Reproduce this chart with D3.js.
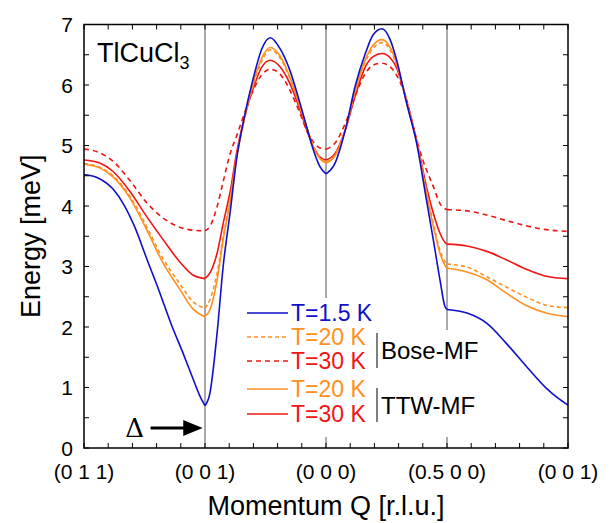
<!DOCTYPE html>
<html>
<head>
<meta charset="utf-8">
<script src="https://cdn.jsdelivr.net/npm/d3@7"></script>
<style>
  html, body { margin: 0; padding: 0; background: #fff; }
  svg { display: block; font-family: "Liberation Sans", Arial, Helvetica, sans-serif; }
</style>
</head>
<body>
<div id="chart"></div>
<script>
// momentum path: 0 = (0 1 1), 1 = (0 0 1), 2 = (0 0 0), 3 = (0.5 0 0), 4 = (0 0 1)
const qLabels = ['(0 1 1)', '(0 0 1)', '(0 0 0)', '(0.5 0 0)', '(0 0 1)'];
const energyTicks = [0, 1, 2, 3, 4, 5, 6, 7];

// [q position, energy meV]
const blue15K = [
  [0, 4.52], [0.12, 4.46], [0.24, 4.28], [0.33, 4.02], [0.42, 3.65], [0.52, 3.12],
  [0.62, 2.6], [0.72, 2.05], [0.82, 1.56], [0.9, 1.15], [0.96, 0.85], [1, 0.70],
  [1.04, 0.90], [1.1, 1.9], [1.15, 3.0], [1.21, 3.93], [1.26, 4.76], [1.32, 5.42],
  [1.4, 6.12], [1.47, 6.6], [1.54, 6.78], [1.62, 6.6], [1.70, 6.25], [1.785, 5.70],
  [1.84, 5.31], [1.895, 4.93], [1.95, 4.65], [2, 4.53],
  [2.075, 4.71], [2.16, 5.26], [2.24, 5.97], [2.325, 6.52], [2.39, 6.83], [2.463, 6.93],
  [2.53, 6.75], [2.584, 6.41], [2.666, 5.70], [2.749, 5.04], [2.83, 4.10], [2.887, 3.44],
  [2.942, 2.78], [2.983, 2.34], [3, 2.29],
  [3.165, 2.23], [3.33, 2.06], [3.49, 1.73], [3.66, 1.34], [3.82, 0.99], [3.92, 0.82], [4, 0.71]
];
const boseT20 = [
  [0, 4.70], [0.13, 4.64], [0.24, 4.50], [0.38, 4.16], [0.52, 3.65], [0.655, 3.12],
  [0.79, 2.72], [0.9, 2.42], [1, 2.31],
  [1.04, 2.45], [1.1, 2.89], [1.15, 3.49], [1.21, 4.14], [1.26, 4.80], [1.32, 5.38],
  [1.4, 6.0], [1.47, 6.4], [1.54, 6.58], [1.62, 6.45], [1.70, 6.12], [1.785, 5.64],
  [1.84, 5.31], [1.895, 5.0], [1.95, 4.80], [2, 4.73],
  [2.075, 4.85], [2.16, 5.27], [2.24, 5.88], [2.325, 6.38], [2.39, 6.61], [2.463, 6.70],
  [2.53, 6.58], [2.584, 6.33], [2.666, 5.72], [2.749, 5.08], [2.83, 4.26], [2.887, 3.71],
  [2.942, 3.27], [2.983, 3.08], [3, 3.04],
  [3.165, 2.99], [3.33, 2.83], [3.49, 2.66], [3.66, 2.49], [3.82, 2.36], [4, 2.32]
];
const boseT30 = [
  [0, 4.94], [0.13, 4.88], [0.24, 4.74], [0.38, 4.42], [0.52, 4.05], [0.655, 3.80],
  [0.79, 3.65], [0.9, 3.60], [1, 3.59],
  [1.04, 3.66], [1.1, 3.99], [1.15, 4.40], [1.21, 4.88], [1.26, 5.15], [1.32, 5.5],
  [1.4, 5.92], [1.47, 6.17], [1.54, 6.26], [1.62, 6.18], [1.70, 5.92], [1.785, 5.53],
  [1.84, 5.25], [1.895, 5.06], [1.95, 4.96], [2, 4.94],
  [2.075, 5.04], [2.16, 5.37], [2.24, 5.81], [2.325, 6.19], [2.39, 6.33], [2.463, 6.36],
  [2.53, 6.3], [2.584, 6.16], [2.666, 5.75], [2.72, 5.31], [2.80, 4.76], [2.887, 4.32],
  [2.942, 4.04], [3, 3.94],
  [3.165, 3.92], [3.33, 3.85], [3.49, 3.76], [3.66, 3.67], [3.82, 3.61], [4, 3.58]
];
const ttwT20 = [
  [0, 4.69], [0.13, 4.63], [0.24, 4.48], [0.38, 4.13], [0.52, 3.6], [0.655, 3.05],
  [0.79, 2.63], [0.9, 2.30], [1, 2.17],
  [1.04, 2.28], [1.1, 2.78], [1.15, 3.44], [1.21, 4.10], [1.26, 4.79], [1.32, 5.40],
  [1.4, 6.05], [1.47, 6.45], [1.54, 6.62], [1.62, 6.48], [1.70, 6.14], [1.785, 5.64],
  [1.84, 5.30], [1.895, 4.98], [1.95, 4.78], [2, 4.71],
  [2.075, 4.83], [2.16, 5.26], [2.24, 5.90], [2.325, 6.42], [2.39, 6.66], [2.463, 6.75],
  [2.53, 6.62], [2.584, 6.36], [2.666, 5.72], [2.749, 5.06], [2.83, 4.21], [2.887, 3.66],
  [2.942, 3.22], [2.983, 3.02], [3, 2.97],
  [3.165, 2.91], [3.33, 2.78], [3.49, 2.56], [3.66, 2.35], [3.82, 2.23], [4, 2.17]
];
const ttwT30 = [
  [0, 4.76], [0.13, 4.71], [0.24, 4.57], [0.38, 4.24], [0.52, 3.82], [0.655, 3.44],
  [0.79, 3.08], [0.9, 2.86], [1, 2.80],
  [1.04, 2.89], [1.1, 3.22], [1.15, 3.71], [1.21, 4.26], [1.26, 4.87], [1.32, 5.42],
  [1.4, 5.95], [1.47, 6.3], [1.54, 6.41], [1.62, 6.3], [1.70, 6.03], [1.785, 5.59],
  [1.84, 5.26], [1.895, 4.98], [1.95, 4.81], [2, 4.76],
  [2.075, 4.87], [2.16, 5.26], [2.24, 5.81], [2.325, 6.30], [2.39, 6.47], [2.463, 6.52],
  [2.53, 6.45], [2.584, 6.28], [2.666, 5.75], [2.749, 5.09], [2.83, 4.32], [2.887, 3.88],
  [2.942, 3.55], [2.983, 3.40], [3, 3.37],
  [3.165, 3.34], [3.33, 3.25], [3.49, 3.11], [3.66, 2.95], [3.82, 2.84], [4, 2.80]
];

const BLUE = '#0f0fcc';
const ORANGE = '#ff9020';
const RED = '#f01414';

const series = [
  { name: 'T=30 K', data: ttwT30, color: RED, dash: null },
  { name: 'T=20 K', data: ttwT20, color: ORANGE, dash: null },
  { name: 'T=30 K', data: boseT30, color: RED, dash: '5,4' },
  { name: 'T=20 K', data: boseT20, color: ORANGE, dash: '4,3' },
  { name: 'T=1.5 K', data: blue15K, color: BLUE, dash: null }
];

const W = 612, H = 523;
const margin = { left: 84, right: 44, top: 24.5, bottom: 75 };

const svg = d3.select('#chart').append('svg')
  .attr('width', W).attr('height', H);

const x = d3.scaleLinear().domain([0, 4]).range([margin.left, W - margin.right]);
const y = d3.scaleLinear().domain([0, 7]).range([H - margin.bottom, margin.top]);

const x0 = x(0), x1 = x(4), y0 = y(0), y1 = y(7);

// segment separators
svg.append('g').selectAll('line')
  .data([1, 2, 3]).enter().append('line')
  .attr('x1', d => x(d)).attr('x2', d => x(d))
  .attr('y1', y0).attr('y2', y1)
  .attr('stroke', '#555').attr('stroke-width', 1);

// curves, drawn piecewise between high-symmetry points
const line = d3.line()
  .x(d => x(d[0])).y(d => y(d[1]))
  .curve(d3.curveMonotoneX);

const curves = svg.append('g').attr('fill', 'none');
series.forEach(s => {
  for (let k = 0; k < 4; k++) {
    const seg = s.data.filter(d => d[0] >= k && d[0] <= k + 1);
    curves.append('path')
      .attr('d', line(seg))
      .attr('stroke', s.color)
      .attr('stroke-width', 1.6)
      .attr('stroke-dasharray', s.dash);
  }
});

// ticks (inward) on all four sides
const ticks = svg.append('g').attr('stroke', '#000').attr('stroke-width', 1);
const xMinor = d3.range(0, 4.001, 0.2);
const yMinor = d3.range(0, 7.001, 0.5);
xMinor.forEach(v => {
  ticks.append('line').attr('x1', x(v)).attr('x2', x(v)).attr('y1', y0).attr('y2', y0 - 5);
  ticks.append('line').attr('x1', x(v)).attr('x2', x(v)).attr('y1', y1).attr('y2', y1 + 5);
});
yMinor.forEach(v => {
  ticks.append('line').attr('x1', x0).attr('x2', x0 + 5).attr('y1', y(v)).attr('y2', y(v));
  ticks.append('line').attr('x1', x1).attr('x2', x1 - 5).attr('y1', y(v)).attr('y2', y(v));
});

// frame
svg.append('rect')
  .attr('x', x0).attr('y', y1).attr('width', x1 - x0).attr('height', y0 - y1)
  .attr('fill', 'none').attr('stroke', '#000').attr('stroke-width', 1.5);

// tick labels
svg.append('g').selectAll('text')
  .data(energyTicks).enter().append('text')
  .attr('x', x0 - 11).attr('y', d => y(d) + 7.5)
  .attr('text-anchor', 'end').attr('font-size', 21)
  .text(d => d);

svg.append('g').selectAll('text')
  .data(qLabels).enter().append('text')
  .attr('x', (d, i) => x(i)).attr('y', y0 + 31)
  .attr('text-anchor', 'middle').attr('font-size', 21)
  .text(d => d);

// axis titles
svg.append('text')
  .attr('x', (x0 + x1) / 2).attr('y', 515)
  .attr('text-anchor', 'middle').attr('font-size', 27)
  .text('Momentum Q [r.l.u.]');

svg.append('text')
  .attr('transform', `translate(40, ${(y0 + y1) / 2}) rotate(-90)`)
  .attr('text-anchor', 'middle').attr('font-size', 27)
  .text('Energy [meV]');

// compound label
const comp = svg.append('text').attr('x', 97).attr('y', 62).attr('font-size', 27);
comp.append('tspan').text('TlCuCl');
comp.append('tspan').attr('font-size', 18).attr('dy', 7).text('3');

// gap annotation
svg.append('text')
  .attr('x', x(0.34)).attr('y', y(0.33) + 9)
  .attr('font-size', 26).attr('font-family', '"DejaVu Serif", "Liberation Serif", serif')
  .text('\u0394');
svg.append('line')
  .attr('x1', x(0.55)).attr('x2', x(0.85))
  .attr('y1', y(0.33)).attr('y2', y(0.33))
  .attr('stroke', '#000').attr('stroke-width', 3);
svg.append('path')
  .attr('d', `M${x(0.82)},${y(0.33) - 8}L${x(0.98)},${y(0.33)}L${x(0.82)},${y(0.33) + 8}Z`)
  .attr('fill', '#000');

// legend
const legend = svg.append('g');
legend.append('rect').attr('x', 289).attr('y', 298).attr('width', 89).attr('height', 139).attr('fill', '#fff');
legend.append('rect').attr('x', 378).attr('y', 330).attr('width', 104).attr('height', 107).attr('fill', '#fff');

const legendRows = [
  { s: series[4], y: 313 },
  { s: series[3], y: 337 },
  { s: series[2], y: 361 },
  { s: series[1], y: 389 },
  { s: series[0], y: 414 }
];
legendRows.forEach(r => {
  legend.append('line')
    .attr('x1', 247).attr('x2', 288).attr('y1', r.y).attr('y2', r.y)
    .attr('stroke', r.s.color).attr('stroke-width', 1.6)
    .attr('stroke-dasharray', r.s.dash);
  legend.append('text')
    .attr('x', 291).attr('y', r.y + 8)
    .attr('font-size', 23).attr('fill', r.s.color)
    .text(r.s.name);
});

const groups = [
  { label: 'Bose-MF', top: 333, bottom: 368 },
  { label: 'TTW-MF', top: 388, bottom: 422 }
];
groups.forEach(g => {
  legend.append('line')
    .attr('x1', 377).attr('x2', 377).attr('y1', g.top).attr('y2', g.bottom)
    .attr('stroke', '#000').attr('stroke-width', 1);
  legend.append('text')
    .attr('x', 381).attr('y', (g.top + g.bottom) / 2 + 8.5)
    .attr('font-size', 24).attr('fill', '#000')
    .text(g.label);
});
</script>
</body>
</html>
